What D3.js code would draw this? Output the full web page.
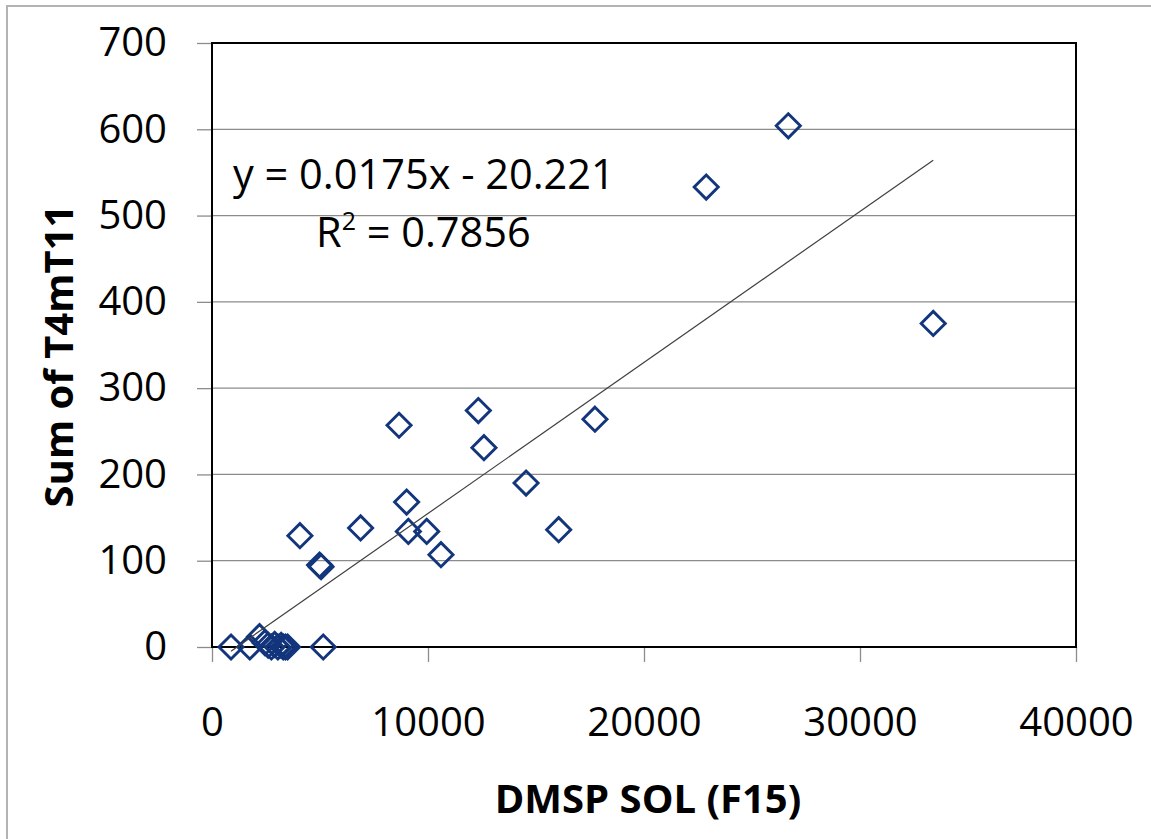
<!DOCTYPE html>
<html>
<head>
<meta charset="utf-8">
<script src="https://cdn.jsdelivr.net/npm/d3@7"></script>
<style>
  html, body { margin: 0; padding: 0; background: #fff; }
  svg { display: block; }
  text { font-family: "Open Sans", "Noto Sans", sans-serif; fill: #000; }
</style>
</head>
<body>
<svg id="chart" width="1151" height="839"></svg>
<script>
// DMSP SOL (F15) against sum of T4mT11
const solF15 = [880, 1750, 2200, 2450, 2600, 2750, 2900, 3050, 3200, 3300, 3400, 3500, 5150,
                4070, 4980, 5050, 6880, 8660, 9010, 9090, 9940, 10600, 12330, 12590,
                14540, 16050, 17730, 22880, 26680, 33390];
const sumT4mT11 = [0, 0, 12, 5, 2, 0, 3, 0, 2, 0, 0, 0, 0,
                   129, 95, 93, 138, 257, 168, 134, 134, 107, 274, 231,
                   190, 136, 264, 533, 604, 375];

const xTicks = [0, 10000, 20000, 30000, 40000];
const yTicks = [0, 100, 200, 300, 400, 500, 600, 700];

// Linear trendline as stated in the equation label
const trendSlope = 0.0175;
const trendIntercept = -20.221;
const trendLabel = "y = 0.0175x - 20.221";
const r2Label = "0.7856";

const svg = d3.select("#chart");

// outer chart frame
svg.append("rect")
  .attr("x", 7).attr("y", 6)
  .attr("width", 1160).attr("height", 850)
  .attr("fill", "none").attr("stroke", "#b3b3b3").attr("stroke-width", 2);

const x = d3.scaleLinear().domain([0, 40000]).range([212, 1076]);
const y = d3.scaleLinear().domain([0, 700]).range([647, 43]);

// horizontal gridlines
svg.append("g").selectAll("line")
  .data(yTicks.filter(d => d > 0 && d < 700))
  .join("line")
  .attr("x1", x(0)).attr("x2", x(40000))
  .attr("y1", d => y(d)).attr("y2", d => y(d))
  .attr("stroke", "#8c8c8c").attr("stroke-width", 1.3);

// axes
const yAxis = svg.append("g")
  .attr("transform", `translate(${x(0)},0)`)
  .call(d3.axisLeft(y).tickValues(yTicks).tickSize(15).tickPadding(30));
const xAxis = svg.append("g")
  .attr("transform", `translate(0,${y(0)})`)
  .call(d3.axisBottom(x).tickValues(xTicks).tickFormat(d3.format("d")).tickSize(15).tickPadding(46));

[yAxis, xAxis].forEach(g => {
  g.select(".domain").remove();
  g.selectAll(".tick line").attr("stroke", "#8c8c8c").attr("stroke-width", 1.3);
  g.selectAll(".tick text")
    .style("font-family", "'Open Sans', sans-serif")
    .style("font-size", "40px")
    .attr("fill", "#000");
});

// plot area border
svg.append("rect")
  .attr("x", x(0)).attr("y", y(700))
  .attr("width", x(40000) - x(0)).attr("height", y(0) - y(700))
  .attr("fill", "none").attr("stroke", "#000").attr("stroke-width", 2);

// data markers (diamonds)
const diamond = d3.symbol().type(d3.symbolDiamond2).size(370);
svg.append("g").selectAll("path")
  .data(solF15.map((v, i) => [v, sumT4mT11[i]]))
  .join("path")
  .attr("transform", d => `translate(${x(d[0])},${y(d[1])})`)
  .attr("d", diamond)
  .attr("fill", "none")
  .attr("stroke", "#12357c")
  .attr("stroke-width", 2.9);

// trendline across the data range
const xMin = d3.min(solF15), xMax = d3.max(solF15);
svg.append("line")
  .attr("x1", x(xMin)).attr("y1", y(trendSlope * xMin + trendIntercept))
  .attr("x2", x(xMax)).attr("y2", y(trendSlope * xMax + trendIntercept))
  .attr("stroke", "#404040").attr("stroke-width", 1.2);

// equation and R² labels
svg.append("text")
  .attr("x", 233).attr("y", 189)
  .style("font-size", "41.5px")
  .text(trendLabel);
const r2 = svg.append("text")
  .attr("x", 316).attr("y", 247)
  .style("font-size", "41.5px");
r2.append("tspan").text("R");
r2.append("tspan").attr("dy", -17).style("font-size", "25px").text("2");
r2.append("tspan").attr("dy", 17).text(" = " + r2Label);

// axis titles
svg.append("text")
  .attr("x", 648).attr("y", 813)
  .attr("text-anchor", "middle")
  .style("font-size", "40px").style("font-weight", "bold")
  .text("DMSP SOL (F15)");
svg.append("text")
  .attr("transform", "translate(73,356) rotate(-90)")
  .attr("text-anchor", "middle")
  .style("font-size", "40px").style("font-weight", "bold")
  .text("Sum of T4mT11");
</script>
</body>
</html>
